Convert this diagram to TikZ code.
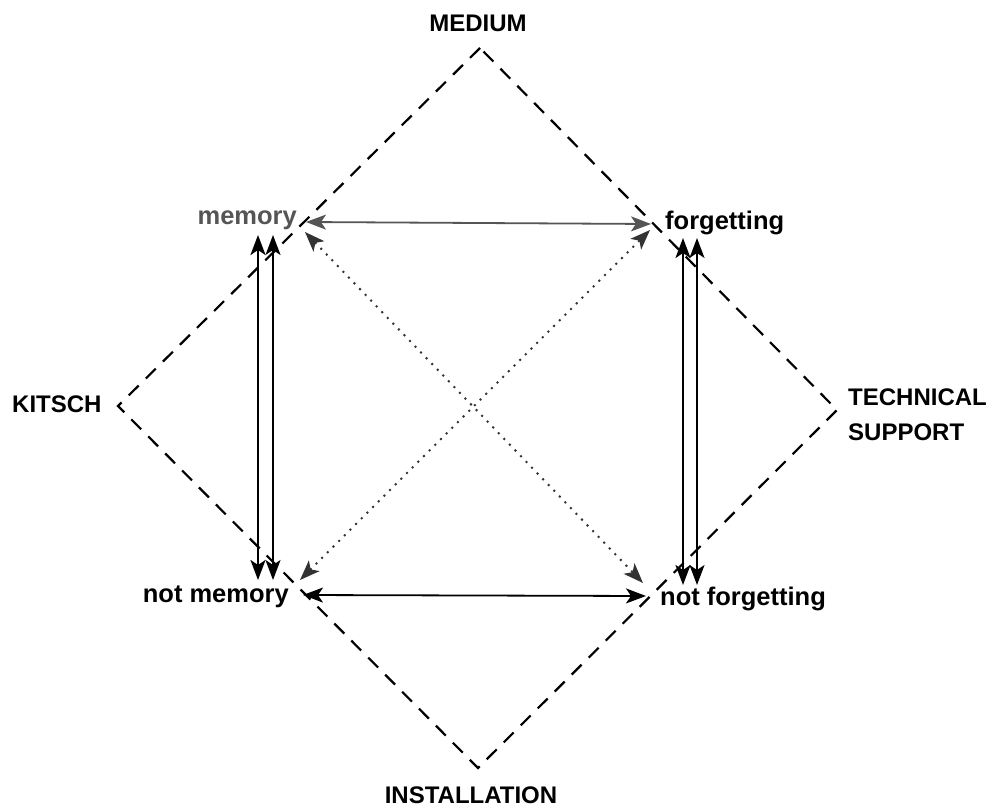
\documentclass[tikz,border=0pt]{standalone}
\usepackage{fontspec}
\setmainfont{Liberation Sans}
\usetikzlibrary{arrows.meta}
\definecolor{midgray}{HTML}{555555}
\definecolor{dotgray}{HTML}{333333}
\begin{document}
\begin{tikzpicture}[x=1pt,y=-1pt,
  tip/.tip={Stealth[length=20pt,width=15pt,inset=5pt]},
  lbl/.style={inner sep=0pt,font=\bfseries\fontsize{24}{35}\selectfont},
  lbs/.style={inner sep=0pt,font=\bfseries\fontsize{25.5}{34}\selectfont},
  frame/.style={draw=black,line width=2.2pt,dash pattern=on 14pt off 10pt},
  duo/.style={line width=1.8pt,tip-tip},
  dotduo/.style={draw=dotgray,line width=2pt,dash pattern=on 2pt off 6pt,tip-tip}]
\useasboundingbox (0,0) rectangle (993,810);
% corners of the frame
\coordinate (top) at (480,48);
\coordinate (lft) at (118,406);
\coordinate (rgt) at (837,410);
\coordinate (bot) at (478,768);
\draw[frame] (top) -- (lft) -- (bot) -- (rgt) -- cycle;
% labels
\node[lbl,anchor=base] (medium) at (478,32) {MEDIUM};
\node[lbl,anchor=base] (install) at (471,803) {INSTALLATION};
\node[lbl,anchor=base west] (kitsch) at (12,412) {KITSCH};
\node[lbl,anchor=west,align=left] (tech) at (848,415) {TECHNICAL\\SUPPORT};
\node[lbs,anchor=base east,text=midgray] (mem) at (297,225) {memory};
\node[lbs,anchor=base west] (forg) at (665,230) {forgetting};
\node[lbs,anchor=base east] (nmem) at (289,602) {not memory};
\node[lbs,anchor=base west] (nforg) at (660,605) {not forgetting};
% arrow end points
\coordinate (mH) at (306,222);
\coordinate (fH) at (651,224);
\coordinate (nmH) at (303,595);
\coordinate (nfH) at (646,596);
\coordinate (mD) at (305,232);
\coordinate (nfD) at (643,583);
\coordinate (nmD) at (300,580);
\coordinate (fD) at (650,230);
\coordinate (mV1) at (258,235);
\coordinate (nmV1) at (258,580);
\coordinate (mV2) at (273,235);
\coordinate (nmV2) at (273,580);
\coordinate (fV1) at (683,238);
\coordinate (nfV1) at (683,585);
\coordinate (fV2) at (697,238);
\coordinate (nfV2) at (697,585);
% connectors
\draw[duo,draw=midgray,fill=midgray] (mH) -- (fH);
\draw[duo] (nmH) -- (nfH);
\draw[dotduo] (mD) -- (nfD);
\draw[dotduo] (nmD) -- (fD);
\draw[duo,line width=2.4pt] (mV1) -- (nmV1);
\draw[duo] (mV2) -- (nmV2);
\draw[duo,line width=2.4pt] (fV1) -- (nfV1);
\draw[duo] (fV2) -- (nfV2);
\end{tikzpicture}
\end{document}
